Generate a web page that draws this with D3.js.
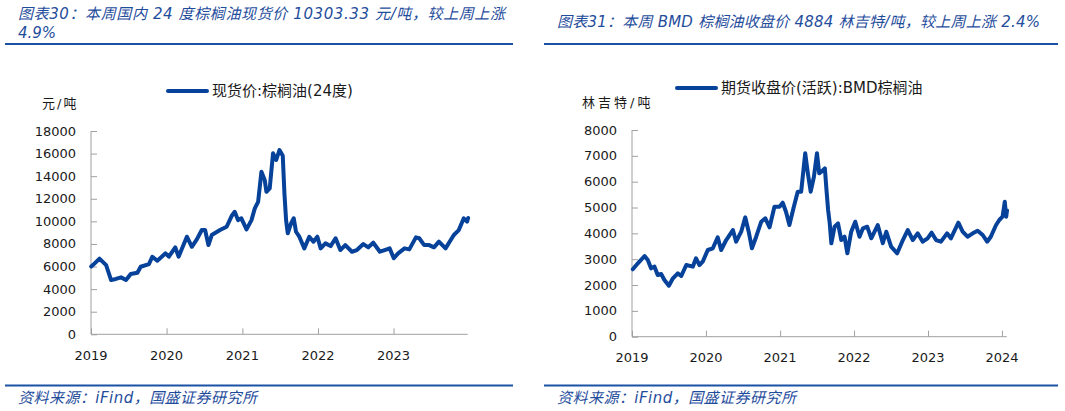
<!DOCTYPE html>
<html><head><meta charset="utf-8">
<script src="https://cdn.jsdelivr.net/npm/d3@7"></script>
<style>
html,body{margin:0;padding:0;background:#fff;}
svg{display:block;}
text{font-family:"DejaVu Sans","Noto Sans CJK SC",sans-serif;}
</style></head>
<body>
<script>
// ---------- DATA ----------
const leftTitle1 = "图表30：本周国内 24 度棕榈油现货价 10303.33 元/吨，较上周上涨";
const leftTitle2 = "4.9%";
const rightTitle = "图表31：本周 BMD 棕榈油收盘价 4884 林吉特/吨，较上周上涨 2.4%";
const sourceText = "资料来源：iFind，国盛证券研究所";

const leftUnit = "元/吨";
const leftLegend = "现货价:棕榈油(24度)";
const leftYTicks = [0, 2000, 4000, 6000, 8000, 10000, 12000, 14000, 16000, 18000];
const leftXTicks = ["2019", "2020", "2021", "2022", "2023"];
const leftDates = ["2019-01-02","2019-01-10","2019-02-11","2019-03-15","2019-04-08","2019-05-01","2019-05-26","2019-06-19","2019-07-12","2019-08-13","2019-08-29","2019-10-08","2019-10-24","2019-11-17","2019-12-27",
"2020-01-12","2020-02-12","2020-02-28","2020-04-08","2020-05-02","2020-05-26","2020-06-19","2020-07-05","2020-07-21","2020-08-06","2020-09-15","2020-10-17","2020-11-10","2020-11-25","2020-12-11","2020-12-27",
"2021-01-21","2021-02-14","2021-03-02","2021-03-18","2021-04-03","2021-04-19","2021-04-27","2021-05-13","2021-05-29","2021-06-13","2021-06-29","2021-07-15","2021-07-23","2021-07-31","2021-08-08","2021-08-24","2021-09-06","2021-09-17","2021-10-03","2021-10-27","2021-11-20","2021-12-10","2021-12-29",
"2022-01-14","2022-02-06","2022-03-03","2022-03-27","2022-04-19","2022-05-13","2022-06-14","2022-07-08","2022-08-08","2022-09-01","2022-09-25","2022-10-27","2022-11-19","2022-12-13",
"2023-01-02","2023-01-23","2023-02-23","2023-03-18","2023-04-19","2023-05-05","2023-05-29","2023-06-22","2023-07-15","2023-08-08","2023-09-09","2023-10-04","2023-10-19","2023-11-12","2023-12-06","2023-12-22","2023-12-27"];
const leftValues = [6000,6130,6700,6130,4800,4900,5040,4800,5340,5450,5980,6220,6870,6510,7170,
6870,7700,6870,8640,7750,8400,9230,9230,7900,8790,9230,9520,10470,10850,10110,10270,
9290,10110,11150,11730,14390,13650,12620,12920,16020,15430,16310,15800,12480,10110,8940,9820,10270,9080,8640,7610,8640,8200,8640,
7610,8050,7810,8500,7460,7900,7310,7460,7990,7700,8110,7310,7460,7610,
6730,7170,7610,7520,8580,8500,7900,7900,7700,8200,7610,8350,8790,9230,10270,9970,10300];

const rightUnit = "林吉特/吨";
const rightLegend = "期货收盘价(活跃):BMD棕榈油";
const rightYTicks = [0, 1000, 2000, 3000, 4000, 5000, 6000, 7000, 8000];
const rightXTicks = ["2019", "2020", "2021", "2022", "2023", "2024"];
const rightDates = ["2019-01-05","2019-01-30","2019-03-04","2019-03-20","2019-04-05","2019-04-22","2019-05-08","2019-05-25","2019-06-10","2019-07-02","2019-07-22","2019-08-15","2019-09-01","2019-09-26","2019-10-28","2019-11-13","2019-11-30","2019-12-16",
"2020-01-10","2020-02-04","2020-02-28","2020-03-16","2020-04-10","2020-05-13","2020-05-29","2020-06-23","2020-07-13","2020-07-30","2020-08-15","2020-09-05","2020-09-30","2020-10-20","2020-11-10","2020-12-04","2020-12-29",
"2021-01-14","2021-01-30","2021-02-16","2021-03-08","2021-03-29","2021-04-15","2021-05-05","2021-05-18","2021-06-01","2021-06-17","2021-07-02","2021-07-13","2021-07-24","2021-08-10","2021-08-18","2021-08-26","2021-09-03","2021-09-11","2021-09-27","2021-10-14","2021-10-30","2021-11-15","2021-11-29","2021-12-18",
"2022-01-07","2022-01-28","2022-02-14","2022-03-07","2022-03-27","2022-04-28","2022-05-23","2022-06-09","2022-07-03","2022-08-02","2022-08-30","2022-09-23","2022-10-18","2022-11-11","2022-12-06","2022-12-30",
"2023-01-19","2023-02-10","2023-03-06","2023-04-05","2023-04-24","2023-05-31","2023-06-21","2023-07-15","2023-08-10","2023-09-03","2023-09-28","2023-10-20","2023-11-07","2023-12-03","2023-12-19",
"2024-01-04","2024-01-15","2024-01-22","2024-01-26"];
const rightValues = [2608,2840,3123,2968,2647,2710,2388,2426,2194,1974,2260,2453,2349,2775,2710,3034,2775,2903,
3355,3421,3847,3355,3742,4129,3677,4064,4621,4064,3421,3870,4451,4582,4234,5031,5031,
5186,4838,4323,4969,5612,5612,7098,6324,5612,6192,7098,6324,6386,6517,5677,4903,4389,3615,4257,4389,3742,3870,3228,4064,
4451,3870,4195,4257,3808,4323,3615,4064,3483,3228,3742,4129,3742,4001,3677,3808,
4025,3742,3677,4001,3808,4412,4064,3870,4001,4102,3936,3677,3870,4323,4516,
4644,5224,4644,4884];

// ---------- STYLE ----------
const BLUE_TEXT = "#1f4d9c";
const RULE = "#1a52a6";
const SERIES = "#06419a";
const AXIS = "#a0a0a0";
const TICKTXT = "#1a1a1a";

const W = 1065, H = 411;
const svg = d3.select("body").append("svg").attr("width", W).attr("height", H);
const parse = d3.timeParse("%Y-%m-%d");

function header(x0, x1, lines) {
  lines.forEach(l => {
    const t = svg.append("text").attr("x", l.x).attr("y", l.y)
      .attr("dominant-baseline", "central")
      .attr("font-size", 15).attr("font-style", "italic")
      .attr("fill", BLUE_TEXT).text(l.t);
    if (l.len) t.attr("textLength", l.len).attr("lengthAdjust", "spacing");
  });
  svg.append("line").attr("x1", x0).attr("x2", x1).attr("y1", 44).attr("y2", 44)
    .attr("stroke", RULE).attr("stroke-width", 2);
  svg.append("line").attr("x1", x0).attr("x2", x1).attr("y1", 385.5).attr("y2", 385.5)
    .attr("stroke", RULE).attr("stroke-width", 2);
  svg.append("text").attr("x", x0 + 13).attr("y", 398)
    .attr("dominant-baseline", "central")
    .attr("font-size", 15).attr("font-style", "italic")
    .attr("textLength", 239).attr("lengthAdjust", "spacing")
    .attr("fill", BLUE_TEXT).text(sourceText);
}

function panel(cfg) {
  const g = svg.append("g");
  const x = d3.scaleTime().domain([parse(cfg.xStart), parse(cfg.xEnd)]).range([cfg.left, cfg.right]);
  const y = d3.scaleLinear().domain([0, d3.max(cfg.yTicks)]).range([cfg.bottom, cfg.top]);

  // y axis
  const ya = g.append("g").attr("transform", `translate(${cfg.left},0)`)
    .call(d3.axisRight(y).tickValues(cfg.yTicks).tickSize(6).tickFormat(""));
  ya.select(".domain").attr("stroke", AXIS).attr("d", `M0,${cfg.bottom}V${cfg.top}`);
  ya.selectAll(".tick line").attr("stroke", AXIS);
  cfg.yTicks.forEach(v => {
    g.append("text").attr("x", cfg.left - 15).attr("y", y(v))
      .attr("text-anchor", "end").attr("dominant-baseline", "central")
      .attr("font-size", 13).attr("fill", TICKTXT).text(v);
  });

  // x axis
  const xt = cfg.xTicks.map(s => parse(s + "-01-01"));
  const xa = g.append("g").attr("transform", `translate(0,${cfg.bottom})`)
    .call(d3.axisTop(x).tickValues(xt).tickSize(6).tickFormat(""));
  xa.select(".domain").attr("stroke", AXIS).attr("d", `M${cfg.left},0H${cfg.right}`);
  xa.selectAll(".tick line").attr("stroke", AXIS);
  xt.forEach((d, i) => {
    g.append("text").attr("x", x(d)).attr("y", cfg.bottom + 21)
      .attr("text-anchor", "middle").attr("dominant-baseline", "central")
      .attr("font-size", 13).attr("fill", TICKTXT).text(cfg.xTicks[i]);
  });

  // series
  const data = cfg.dates.map((d, i) => ({ d: parse(d), v: cfg.values[i] }));
  g.append("path").datum(data)
    .attr("fill", "none").attr("stroke", SERIES).attr("stroke-width", 4)
    .attr("stroke-linejoin", "round").attr("stroke-linecap", "round")
    .attr("d", d3.line().x(p => x(p.d)).y(p => y(p.v)));

  // unit
  g.append("text").attr("x", cfg.unitX).attr("y", cfg.unitY)
    .attr("dominant-baseline", "central").attr("font-size", 13)
    .attr("letter-spacing", cfg.unitSpacing).attr("fill", TICKTXT).text(cfg.unit);

  // legend
  g.append("line").attr("x1", cfg.legX).attr("x2", cfg.legX + 39)
    .attr("y1", cfg.legY).attr("y2", cfg.legY)
    .attr("stroke", SERIES).attr("stroke-width", 4).attr("stroke-linecap", "round");
  g.append("text").attr("x", cfg.legX + 44).attr("y", cfg.legY)
    .attr("dominant-baseline", "central").attr("font-size", 15)
    .attr("fill", TICKTXT).text(cfg.legend);
}

header(5, 513, [{x: 18, y: 14, t: leftTitle1, len: 487}, {x: 18, y: 33, t: leftTitle2}]);
header(544, 1058, [{x: 557, y: 22, t: rightTitle, len: 483}]);

panel({
  left: 91, right: 467.7, top: 131, bottom: 334.3,
  xStart: "2019-01-01", xEnd: "2023-12-25",
  yTicks: leftYTicks, xTicks: leftXTicks,
  dates: leftDates, values: leftValues,
  unit: leftUnit, unitX: 42, unitY: 103, unitSpacing: 2,
  legend: leftLegend, legX: 168, legY: 91
});

panel({
  left: 632, right: 1006.8, top: 130, bottom: 336.7,
  xStart: "2019-01-01", xEnd: "2024-01-25",
  yTicks: rightYTicks, xTicks: rightXTicks,
  dates: rightDates, values: rightValues,
  unit: rightUnit, unitX: 582, unitY: 102, unitSpacing: 3,
  legend: rightLegend, legX: 677, legY: 88
});
</script>
</body></html>
